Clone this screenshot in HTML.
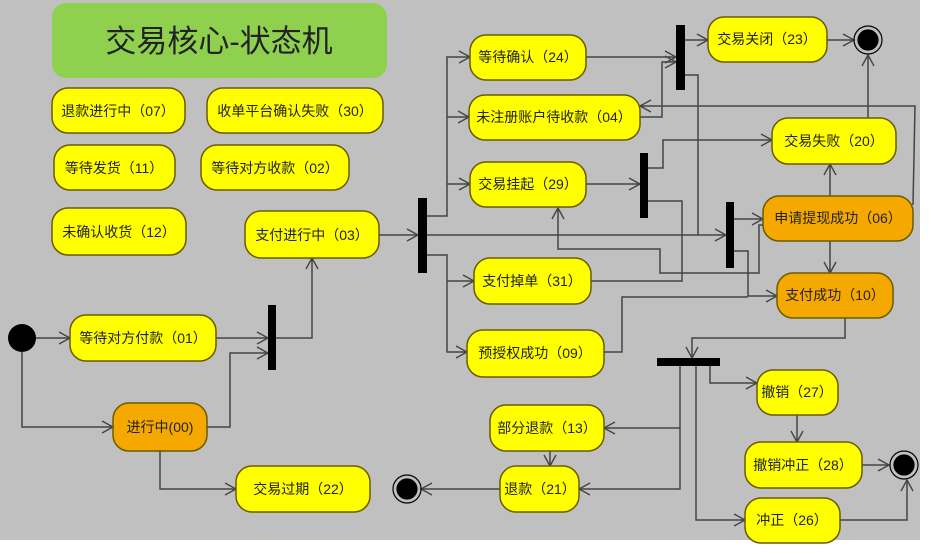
<!DOCTYPE html>
<html><head><meta charset="utf-8"><style>
body{margin:0;width:931px;height:554px;background:#fff;overflow:hidden;font-family:"Liberation Sans","Noto Sans CJK SC",sans-serif}
svg{position:absolute;left:0;top:0}
</style></head><body>
<svg width="931" height="554" viewBox="0 0 931 554">
<defs>
<marker id="a" markerWidth="14" markerHeight="14" refX="12" refY="7" orient="auto" markerUnits="userSpaceOnUse">
<path d="M1,1 L12,7 L1,13" fill="none" stroke="#444" stroke-width="1.4"/>
</marker>
</defs>
<rect x="0" y="0" width="920" height="540" fill="#c0c0c0"/>
<rect x="52" y="3" width="335" height="75" rx="14" fill="#8fd14f"/>
<text x="219" y="52" font-size="31" text-anchor="middle" fill="#222">交易核心-状态机</text>
<g fill="none" stroke="#444" stroke-width="1.5">
<path d="M36,338H70" marker-end="url(#a)"/>
<path d="M22,352V427H113" marker-end="url(#a)"/>
<path d="M216,338H268" marker-end="url(#a)"/>
<path d="M207,427H230V353H268" marker-end="url(#a)"/>
<path d="M276,338H312V258" marker-end="url(#a)"/>
<path d="M379,235H418" marker-end="url(#a)"/>
<path d="M427,216H447V57H470" marker-end="url(#a)"/>
<path d="M447,117H469" marker-end="url(#a)"/>
<path d="M447,184H470" marker-end="url(#a)"/>
<path d="M427,255H447V352H467" marker-end="url(#a)"/>
<path d="M447,281H474" marker-end="url(#a)"/>
<path d="M427,235H726" marker-end="url(#a)"/>
<path d="M586,57H676" marker-end="url(#a)"/>
<path d="M640,117H662V62H676" marker-end="url(#a)"/>
<path d="M913,205L915,106H640" marker-end="url(#a)"/>
<path d="M685,40H708" marker-end="url(#a)"/>
<path d="M827,40H854" marker-end="url(#a)"/>
<path d="M685,75H698V235"/>
<path d="M586,184H640" marker-end="url(#a)"/>
<path d="M648,168H663V140H772" marker-end="url(#a)"/>
<path d="M648,201H682V281H591"/>
<path d="M763,225H759V273H660V249H558V208" marker-end="url(#a)"/>
<path d="M734,219H763" marker-end="url(#a)"/>
<path d="M734,251H748V296H777" marker-end="url(#a)"/>
<path d="M604,352H622V297H748"/>
<path d="M830,196V164" marker-end="url(#a)"/>
<path d="M830,241V273" marker-end="url(#a)"/>
<path d="M868,118V55" marker-end="url(#a)"/>
<path d="M845,318V338H692V358" marker-end="url(#a)"/>
<path d="M710,366V383H757" marker-end="url(#a)"/>
<path d="M797,415V442" marker-end="url(#a)"/>
<path d="M862,465H889" marker-end="url(#a)"/>
<path d="M696,366V520H745" marker-end="url(#a)"/>
<path d="M840,520H907V480" marker-end="url(#a)"/>
<path d="M680,366V489H579" marker-end="url(#a)"/>
<path d="M680,428H604" marker-end="url(#a)"/>
<path d="M550,451V466" marker-end="url(#a)"/>
<path d="M500,489H421" marker-end="url(#a)"/>
<path d="M160,451V489H236" marker-end="url(#a)"/>
</g>
<g fill="#000">
<rect x="268" y="305" width="8" height="65"/>
<rect x="418" y="198" width="9" height="75"/>
<rect x="676" y="25" width="9" height="65"/>
<rect x="640" y="153" width="8" height="65"/>
<rect x="726" y="202" width="8" height="66"/>
<rect x="657" y="358" width="63" height="8"/>
<circle cx="22" cy="338" r="14"/>
</g>
<g fill="#000" stroke="#000" stroke-width="1.2">
<circle cx="407" cy="489" r="10"/><circle cx="407" cy="489" r="14" fill="none"/>
<circle cx="868" cy="40" r="10"/><circle cx="868" cy="40" r="14" fill="none"/>
<circle cx="904" cy="465" r="10"/><circle cx="904" cy="465" r="14" fill="none"/>
</g>
<g stroke="#6b5a00" stroke-width="1.5" font-size="14" text-anchor="middle">
<g fill="#ffff00">
<rect x="52" y="88" width="133" height="45" rx="16"/>
<rect x="207" y="88" width="176" height="45" rx="16"/>
<rect x="54" y="145" width="121" height="45" rx="16"/>
<rect x="201" y="145" width="148" height="45" rx="16"/>
<rect x="52" y="208" width="134" height="47" rx="16"/>
<rect x="245" y="211" width="134" height="47" rx="16"/>
<rect x="70" y="315" width="146" height="46" rx="16"/>
<rect x="236" y="466" width="134" height="46" rx="16"/>
<rect x="500" y="466" width="79" height="46" rx="16"/>
<rect x="490" y="405" width="114" height="46" rx="16"/>
<rect x="757" y="370" width="81" height="45" rx="16"/>
<rect x="745" y="442" width="117" height="46" rx="16"/>
<rect x="745" y="498" width="95" height="45" rx="16"/>
<rect x="772" y="118" width="124" height="46" rx="16"/>
<rect x="708" y="17" width="119" height="45" rx="16"/>
<rect x="470" y="35" width="116" height="45" rx="16"/>
<rect x="469" y="95" width="171" height="45" rx="16"/>
<rect x="470" y="162" width="116" height="45" rx="16"/>
<rect x="474" y="258" width="117" height="46" rx="16"/>
<rect x="467" y="330" width="137" height="47" rx="16"/>
</g>
<g fill="#f5a800">
<rect x="113" y="403" width="94" height="48" rx="16"/>
<rect x="777" y="273" width="116" height="45" rx="16"/>
<rect x="763" y="196" width="150" height="45" rx="16"/>
</g>
</g>
<g font-size="14" text-anchor="middle" fill="#222">
<text x="118" y="116">退款进行中（07）</text>
<text x="295" y="116">收单平台确认失败（30）</text>
<text x="114" y="173">等待发货（11）</text>
<text x="275" y="173">等待对方收款（02）</text>
<text x="119" y="237">未确认收货（12）</text>
<text x="312" y="240">支付进行中（03）</text>
<text x="143" y="343">等待对方付款（01）</text>
<text x="160" y="432">进行中(00)</text>
<text x="303" y="494">交易过期（22）</text>
<text x="540" y="494">退款（21）</text>
<text x="547" y="433">部分退款（13）</text>
<text x="797" y="397">撤销（27）</text>
<text x="803" y="470">撤销冲正（28）</text>
<text x="792" y="525">冲正（26）</text>
<text x="834" y="146">交易失败（20）</text>
<text x="767" y="44">交易关闭（23）</text>
<text x="528" y="62">等待确认（24）</text>
<text x="554" y="122">未注册账户待收款（04）</text>
<text x="528" y="189">交易挂起（29）</text>
<text x="532" y="286">支付掉单（31）</text>
<text x="535" y="358">预授权成功（09）</text>
<text x="835" y="300">支付成功（10）</text>
<text x="838" y="223">申请提现成功（06）</text>
</g>
</svg>
</body></html>
